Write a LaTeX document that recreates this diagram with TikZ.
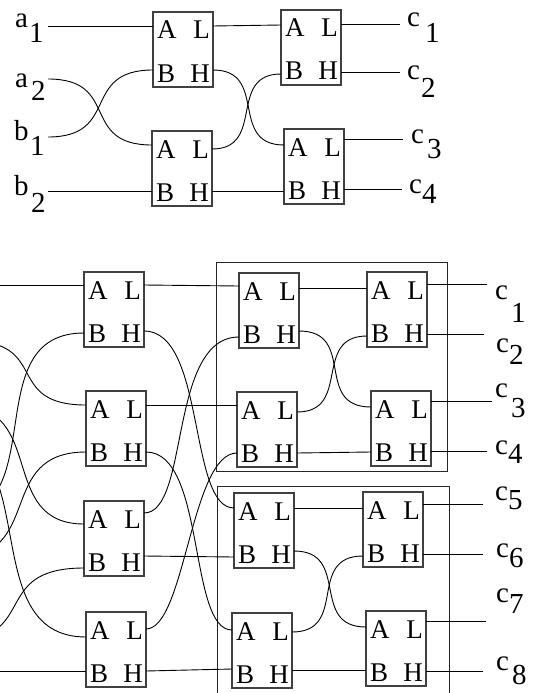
\documentclass[tikz,border=0pt]{standalone}
\usepackage{fontspec}
\setmainfont{Liberation Serif}

% S-shaped wire: start, end, horizontal pull at start, horizontal pull at end
\newcommand\swire[4]{\draw[wire] (#1) .. controls ([xshift=#3]#1) and ([xshift=-#4]#2) .. (#2);}

\tikzset{
  wire/.style={draw=black, line width=0.9pt},
  cmpbox/.style={draw=black!75, line width=1.1pt, minimum width=60pt, minimum height=75pt,
    inner sep=0pt, outer sep=0pt, anchor=north west},
  cmplet/.style={inner sep=0pt, font=\fontsize{27}{27}\selectfont},
  lab/.style={inner sep=0pt, anchor=base west, font=\fontsize{29}{29}\selectfont},
  frame/.style={draw=black!85, line width=1pt},
  % comparator: port offsets A/B (left) and L/H (right), measured down from the top edge
  pics/cmp/.style args={#1/#2/#3/#4}{code={
    \node[cmpbox] (-box) at (0,0) {};
    \node[cmplet, anchor=base west] (-ta) at (4,27) {A};
    \node[cmplet, anchor=base east] (-tl) at (57,27) {L};
    \node[cmplet, anchor=base west] (-tb) at (4,70) {B};
    \node[cmplet, anchor=base east] (-th) at (57,70) {H};
    \coordinate (-a) at (0,#1);
    \coordinate (-b) at (0,#2);
    \coordinate (-l) at (60,#3);
    \coordinate (-h) at (60,#4);
  }}
}

\begin{document}
\begin{tikzpicture}[x=1pt,y=-1pt]
\useasboundingbox (0,0) rectangle (535,693);
\clip (0,0) rectangle (535,693);

% ---------- 4-input merger ----------
\pic (T1) at (153,12)  {cmp=14/58/14/58};
\pic (T2) at (152,131) {cmp=14/60/18/60};
\pic (T3) at (281,10)  {cmp=15/64/14/62};
\pic (T4) at (284,129) {cmp=16/62/10/60};

\coordinate (ia1) at (48,26);
\coordinate (ia2) at (48,79);
\coordinate (ib1) at (48,137);
\coordinate (ib2) at (48,191);
\draw[wire] (ia1) -- (T1-a);
\swire{ia2}{T2-a}{73pt}{73pt}
\swire{ib1}{T1-b}{73pt}{73pt}
\draw[wire] (ib2) -- (T2-b);

\draw[wire] (T1-l) -- (T3-a);
\swire{T1-h}{T4-a}{56pt}{56pt}
\swire{T2-l}{T3-b}{54pt}{54pt}
\draw[wire] (T2-h) -- (T4-b);

\coordinate (oc1) at (400,24);
\coordinate (oc2) at (400,72);
\coordinate (oc3) at (403,139);
\coordinate (oc4) at (402,189);
\draw[wire] (T3-l) -- (oc1);
\draw[wire] (T3-h) -- (oc2);
\draw[wire] (T4-l) -- (oc3);
\draw[wire] (T4-h) -- (oc4);

\node[lab] (la1) at (15,28) {a};   \node[lab] (la1s) at (29,43) {1};
\node[lab] (la2) at (15,87) {a};   \node[lab] (la2s) at (31,100) {2};
\node[lab] (lb1) at (14,140) {b};  \node[lab] (lb1s) at (30,155) {1};
\node[lab] (lb2) at (14,195) {b};  \node[lab] (lb2s) at (31,212) {2};
\node[lab] (lc1) at (407,27) {c};  \node[lab] (lc1s) at (425,43) {1};
\node[lab] (lc2) at (407,80) {c};  \node[lab] (lc2s) at (421,97) {2};
\node[lab] (lc3) at (411,143) {c}; \node[lab] (lc3s) at (427,158) {3};
\node[lab] (lc4) at (409,193) {c}; \node[lab] (lc4s) at (422,203) {4};

% ---------- 8-input merger ----------
\draw[frame] (216,262) rectangle (447,471);
\draw[frame] (217,486) rectangle (449,710);

\pic (B1)  at (84,272)  {cmp=13/61/13/59};
\pic (B2)  at (86,391)  {cmp=14/61/14/61};
\pic (B3)  at (84,501)  {cmp=23/67/12/55};
\pic (B4)  at (86,612)  {cmp=25/59/17/59};
\pic (B5)  at (239,273) {cmp=13/64/15/58};
\pic (B6)  at (237,392) {cmp=13/61/20/61};
\pic (B7)  at (234,493) {cmp=15/64/15/58};
\pic (B8)  at (232,613) {cmp=17/56/19/57};
\pic (B9)  at (367,272) {cmp=16/64/12/62};
\pic (B10) at (371,391) {cmp=16/61/10/60};
\pic (B11) at (363,492) {cmp=16/64/12/62};
\pic (B12) at (366,611) {cmp=16/59/10/60};

% inputs entering from the left
\coordinate (s1a) at (-5,285);
\coordinate (s2a) at (-32,341);
\coordinate (s3a) at (-40,406);
\coordinate (s4a) at (-66,433);
\coordinate (s1b) at (-54,517);
\coordinate (s2b) at (-46,558);
\coordinate (s3b) at (-54,642);
\coordinate (s4b) at (-5,671);
\draw[wire] (s1a) -- (B1-a);
\swire{s2a}{B2-a}{83pt}{83pt}
\swire{s3a}{B3-a}{87pt}{87pt}
\swire{s4a}{B4-a}{114pt}{114pt}
\swire{s1b}{B1-b}{110pt}{110pt}
\swire{s2b}{B2-b}{92pt}{92pt}
\swire{s3b}{B3-b}{97pt}{97pt}
\draw[wire] (s4b) -- (B4-b);

% first column to the two half mergers
\draw[wire] (B1-l) -- (B5-a);
\swire{B1-h}{B7-a}{62pt}{46pt}
\draw[wire] (B2-l) -- (B6-a);
\swire{B2-h}{B8-a}{60pt}{44pt}
\swire{B3-l}{B5-b}{46pt}{71pt}
\draw[wire] (B3-h) -- (B7-b);
\swire{B4-l}{B6-b}{39pt}{46pt}
\draw[wire] (B4-h) -- (B8-b);

% inside the half mergers
\draw[wire] (B5-l) -- (B9-a);
\swire{B5-h}{B10-a}{58pt}{58pt}
\swire{B6-l}{B9-b}{55pt}{55pt}
\draw[wire] (B6-h) -- (B10-b);
\draw[wire] (B7-l) -- (B11-a);
\swire{B7-h}{B12-a}{57pt}{57pt}
\swire{B8-l}{B11-b}{57pt}{57pt}
\draw[wire] (B8-h) -- (B12-b);

% outputs
\coordinate (o1) at (487,284);
\coordinate (o2) at (484,334);
\coordinate (o3) at (492,401);
\coordinate (o4) at (487,451);
\coordinate (o5) at (483,504);
\coordinate (o6) at (483,554);
\coordinate (o7) at (486,621);
\coordinate (o8) at (483,671);
\draw[wire] (B9-l) -- (o1);
\draw[wire] (B9-h) -- (o2);
\draw[wire] (B10-l) -- (o3);
\draw[wire] (B10-h) -- (o4);
\draw[wire] (B11-l) -- (o5);
\draw[wire] (B11-h) -- (o6);
\draw[wire] (B12-l) -- (o7);
\draw[wire] (B12-h) -- (o8);

\node[lab] (d1) at (495,299) {c}; \node[lab] (d1s) at (511,322) {1};
\node[lab] (d2) at (496,352) {c}; \node[lab] (d2s) at (509,364) {2};
\node[lab] (d3) at (495,397) {c}; \node[lab] (d3s) at (511,417) {3};
\node[lab] (d4) at (495,454) {c}; \node[lab] (d4s) at (508,463) {4};
\node[lab] (d5) at (495,500) {c}; \node[lab] (d5s) at (508,509) {5};
\node[lab] (d6) at (496,557) {c}; \node[lab] (d6s) at (509,567) {6};
\node[lab] (d7) at (496,602) {c}; \node[lab] (d7s) at (509,613) {7};
\node[lab] (d8) at (496,670) {c}; \node[lab] (d8s) at (512,684) {8};
\end{tikzpicture}
\end{document}
